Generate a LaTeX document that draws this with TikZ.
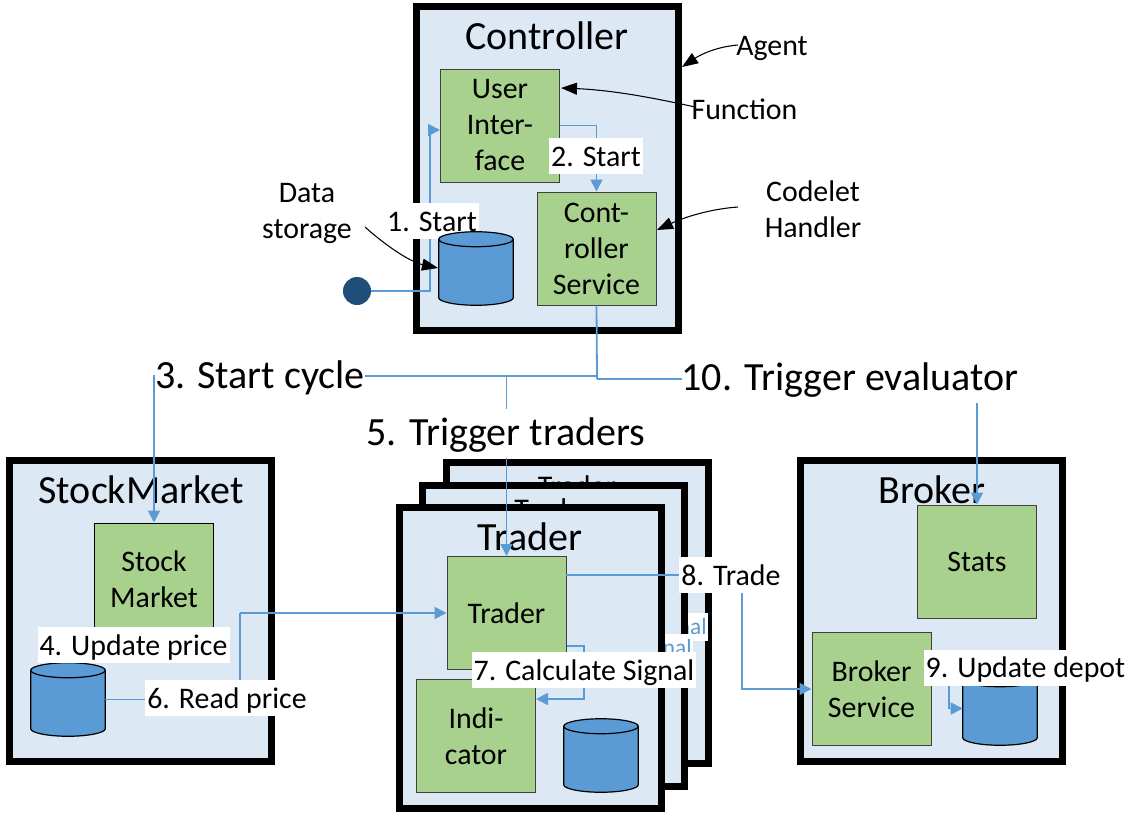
\documentclass[tikz,border=0pt]{standalone}
\usepackage{xcolor}
\usepackage{fontspec}
\setmainfont{Carlito}
\usetikzlibrary{arrows.meta}
\usetikzlibrary{calc}
\definecolor{agentfill}{HTML}{DDE8F5}
\definecolor{funcfill}{HTML}{A9D18E}
\definecolor{flowcol}{HTML}{5B9BD5}
\definecolor{startcol}{HTML}{1F4E79}
\def\u{0.75pt}
\newcommand{\smallf}{\fontsize{22.4pt}{27pt}\selectfont}
\newcommand{\bigf}{\fontsize{30pt}{36pt}\selectfont}
\newcommand{\hidf}{\fontsize{22.5pt}{27pt}\selectfont}
\tikzstyle{agentbox}=[draw=black,fill=agentfill,line width=7*\u,minimum width=262*\u,minimum height=301*\u,inner sep=0pt]
\tikzstyle{funcbox}=[draw=black!75,fill=funcfill,line width=0.75pt,minimum width=119*\u,minimum height=113*\u,inner sep=0pt,align=center,font=\smallf]
\tikzstyle{dbbody}=[minimum width=74*\u,minimum height=73*\u,inner sep=0pt]
\tikzstyle{dbline}=[draw=black,line width=0.9pt]
\tikzstyle{title}=[anchor=base,font=\bigf,inner sep=0pt]
\tikzstyle{steplabel}=[fill=white,font=\smallf,inner xsep=2*\u,inner ysep=0pt,text height=21pt,text depth=6pt]
\tikzstyle{biglabel}=[fill=white,font=\bigf,inner xsep=0pt,inner ysep=0pt,text height=27.5pt,text depth=9.25pt]
\tikzstyle{hidlabel}=[fill=white,text=flowcol,font=\fontsize{17.5pt}{21pt}\selectfont,anchor=east,inner xsep=1*\u,inner ysep=0pt,text height=16pt,text depth=5pt]
\tikzstyle{note}=[font=\smallf,align=center,inner sep=0pt]
\tikzstyle{flowline}=[flowcol,line width=1.35pt,-{Triangle[length=9pt,width=9pt]}]
\tikzstyle{flowplain}=[flowcol,line width=1.35pt]
\tikzstyle{notearrow}=[black,line width=0.8pt,-{Triangle[length=12pt,width=9pt]}]
% name, position
\newcommand{\datastore}[2]{%
    \node[dbbody] (#1) at (#2) {};
    \draw[dbline,fill=flowcol] ($(#1.north west)+(0,7.5)$) -- ($(#1.south west)+(0,-7.5)$)
      .. controls +(0,4.1) and +(-20,0) .. (#1.south)
      .. controls +(20,0) and +(0,4.1) .. ($(#1.south east)+(0,-7.5)$)
      -- ($(#1.north east)+(0,7.5)$)
      .. controls +(0,-4.1) and +(20,0) .. (#1.north)
      .. controls +(-20,0) and +(0,-4.1) .. cycle;
    \draw[dbline] ($(#1.north west)+(0,7.5)$)
      .. controls +(0,4.1) and +(-20,0) .. ($(#1.north)+(0,15)$)
      .. controls +(20,0) and +(0,4.1) .. ($(#1.north east)+(0,7.5)$);
}
\begin{document}
\begin{tikzpicture}[x=0.75pt,y=-0.75pt]
    \useasboundingbox (0,0) rectangle (1140,821);
    % agents
    \node[agentbox,minimum height=324*\u] (controller) at (547.5,168.5) {};
    \node[agentbox] (market) at (140,611) {};
    \node[agentbox] (broker) at (931,611) {};
    \node[agentbox] (traderC) at (577,612.5) {};
    \node[title,font=\hidf] (traderCt) at (577,496) {Trader};
    \node[hidlabel] (signalC) at (708,627) {7. Calculate Signal};
    \node[agentbox] (traderB) at (553.5,636) {};
    \node[title,font=\hidf] (traderBt) at (553.5,519) {Trader};
    \node[hidlabel] (signalB) at (693,648) {7. Calculate Signal};
    \node[agentbox] (traderA) at (530,658) {};
    \node[title] (controllerT) at (547,49) {Controller};
    \node[title] (marketT) at (141,503.5) {StockMarket};
    \node[title] (brokerT) at (932,503.5) {Broker};
    \node[title] (traderAt) at (530,550.5) {Trader};
    % functions
    \node[funcbox] (ui) at (500,125.5) {User\\Inter-\\face};
    \node[funcbox] (cs) at (596.5,248.5) {Cont-\\roller\\Service};
    \node[funcbox,draw=black] (smf) at (154,579.5) {Stock\\Market};
    \node[funcbox] (trf) at (506.5,613) {Trader};
    \node[funcbox] (ind) at (476,736) {Indi-\\cator};
    \node[funcbox] (stats) at (977,561.5) {Stats};
    \node[funcbox] (bs) at (871.5,689) {Broker\\Service};
    % data storage
    \datastore{mktdb}{68,699.5}
    \datastore{trdb}{601,755.5}
    \datastore{brkdb}{1000,708.5}
    \node[circle,fill=startcol,minimum size=28*\u,inner sep=0pt] (start) at (357,291) {};
    % connectors
    \coordinate (uibend) at (430,130);
    \coordinate (busA) at (597,376);
    \coordinate (busB) at (597,379);
    \coordinate (busT) at (506.5,376);
    \coordinate (readbend) at (240,613);
    \coordinate (sigbend) at (584,646);
    \coordinate (sigend) at (536,699);
    \coordinate (tradeout) at (566,575);
    \coordinate (tradebend) at (742,689);
    \coordinate (depbend) at (949,668);
    \draw[flowline] (start) -| (uibend) -- (uibend -| ui.west);
    \draw[flowline] (ui.east) -| (cs.north);
    \draw[flowplain] (cs.south) -- (busA) -- (busB);
    \draw[flowline] (busA) -| (smf.north);
    \draw[flowline] (busT) -- (trf.north);
    \draw[flowline] (busB) -| (stats.north);
    \draw[flowplain] (mktdb.east) -| (readbend);
    \draw[flowline] (readbend) -- (trf.west);
    \draw[flowline] (sigbend -| trf.east) -- (sigbend) |- (sigend);
    \draw[flowline] (tradeout) -| (tradebend) -- (bs.west);
    \draw[flowline] (depbend -| bs.east) -- (depbend) |- (brkdb.west);
    % labels
    \node[steplabel] (lbA) at (432,221) {1. Start};
    \node[steplabel] (lbB) at (596,156) {2. Start};
    \node[biglabel] (lbC) at (260,376) {3. Start cycle};
    \node[steplabel] (lbD) at (133.5,645) {4. Update price};
    \node[biglabel] (lbE) at (506,433.5) {5. Trigger traders};
    \node[steplabel] (lbF) at (227,698) {6. Read price};
    \node[steplabel] (lbG) at (584,670) {7. Calculate Signal};
    \node[steplabel] (lbH) at (731,575) {8. Trade};
    \node[steplabel] (lbI) at (1025.5,667.5) {9. Update depot};
    \node[biglabel] (lbJ) at (850,378) {10. Trigger evaluator};
    \datastore{ctrldb}{476,268.5}
    % notes
    \node[note] (noteAgent) at (772,48) {Agent};
    \node[note] (noteFunc) at (744.5,109) {Function};
    \node[note] (noteCode) at (813,209) {Codelet\\Handler};
    \node[note] (noteData) at (307,213) {Data\\storage};
    \coordinate (fromAgent) at (738,45);
    \coordinate (toAgent) at (682,67);
    \coordinate (fromFunc) at (695,107);
    \coordinate (toFunc) at (561,88);
    \coordinate (fromCode) at (738,207);
    \coordinate (toCode) at (657,230);
    \coordinate (fromData) at (365,227);
    \coordinate (toData) at (438,268);
    \draw[notearrow] (fromAgent) .. controls (715,47) and (700,55) .. (toAgent);
    \draw[notearrow] (fromFunc) .. controls (650,97) and (610,90) .. (toFunc);
    \draw[notearrow] (fromCode) .. controls (710,209) and (685,217) .. (toCode);
    \draw[notearrow] (fromData) .. controls (385,245) and (410,262) .. (toData);
\end{tikzpicture}
\end{document}
